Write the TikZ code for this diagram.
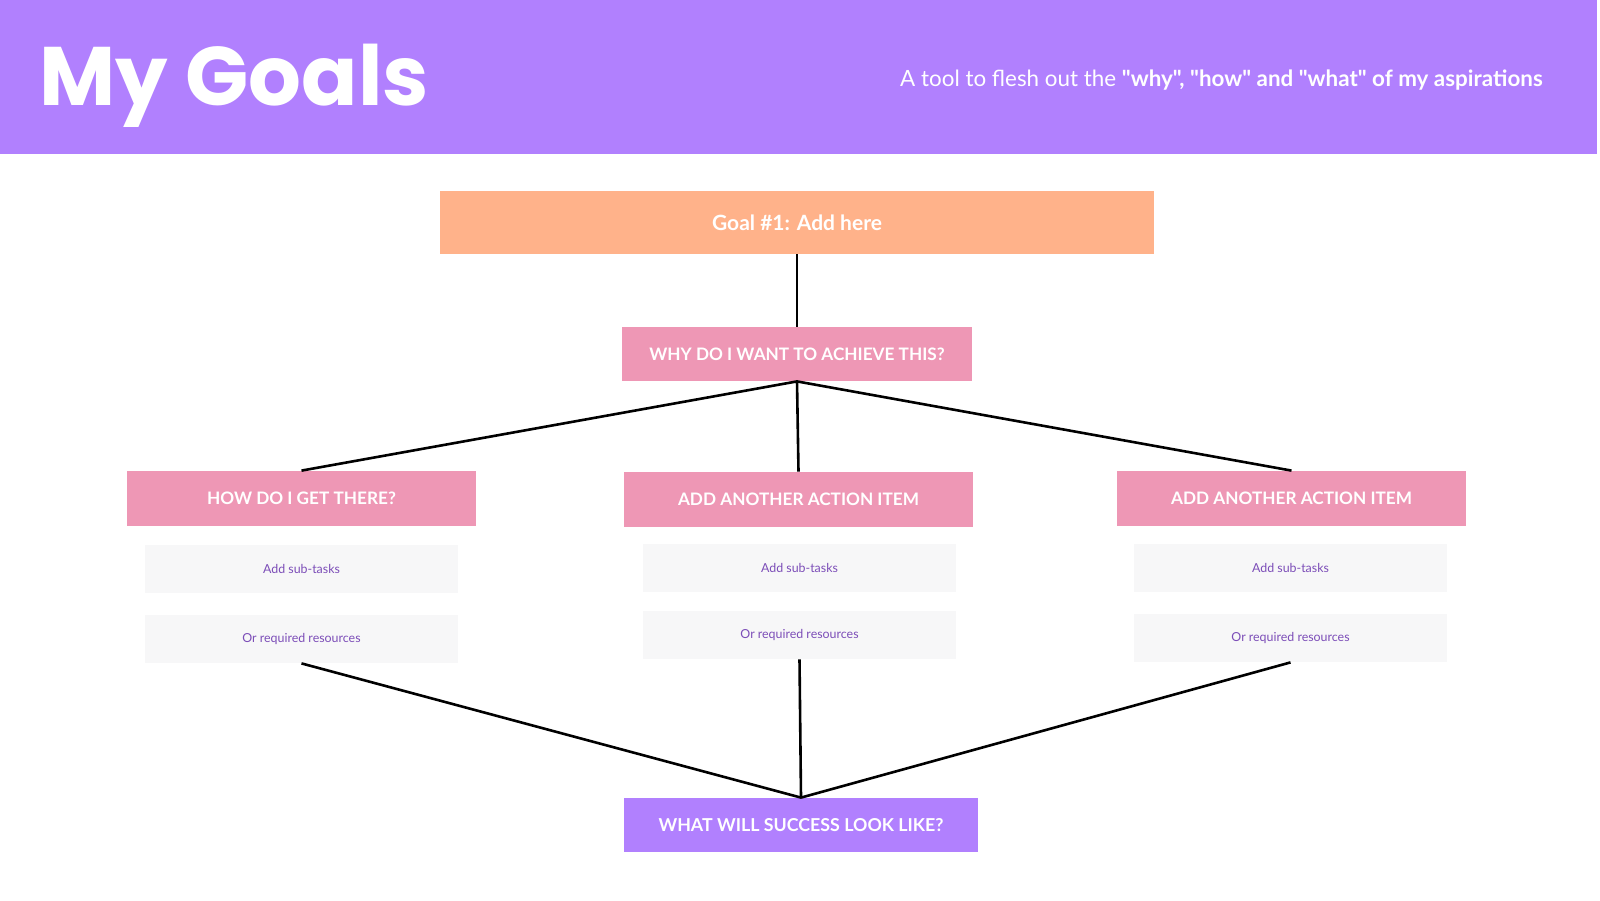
\documentclass[tikz,border=0pt]{standalone}
\usepackage{fontspec}
\setmainfont{Lato}
\newfontfamily\titlefont{Poppins}
\newfontfamily\plainlato{Lato}
\definecolor{hdrpurple}{HTML}{B180FE}
\definecolor{goalpeach}{HTML}{FFB28A}
\definecolor{askpink}{HTML}{EE97B5}
\definecolor{subgray}{HTML}{F7F7F8}
\definecolor{subtext}{HTML}{7C4DB8}
\tikzset{
  askbox/.style={fill=askpink, text=white, font=\bfseries\fontsize{8.6}{10}\selectfont,
    minimum width=174.5pt, minimum height=27.5pt, inner sep=0pt},
  subbox/.style={fill=subgray, text=subtext, font=\fontsize{6.2}{8}\selectfont,
    minimum width=156.5pt, minimum height=24pt, inner sep=0pt},
  link/.style={line width=1.3pt, black}
}
\begin{document}
\begin{tikzpicture}[x=0.5pt, y=-0.5pt]
        \useasboundingbox (0,0) rectangle (1600,900);
        \fill[white] (0,0) rectangle (1600,900);
        \fill[hdrpurple] (0,0) rectangle (1597,154);

        \node[anchor=base west, inner sep=0pt, text=white, font=\titlefont\bfseries\fontsize{41.5}{48}\selectfont] (title) at (39,105) {My Goals};
        \node[anchor=base east, inner sep=0pt, text=white, font=\plainlato\fontsize{11.2}{13}\selectfont] (subtitle) at (1543,86)
            {A tool to flesh out the \textbf{"why", "how" and "what" of my aspirations}};

        \node[fill=goalpeach, text=white, font=\bfseries\fontsize{10.5}{12}\selectfont,
              minimum width=357pt, minimum height=31.5pt, inner sep=0pt] (goal) at (797,222.5) {Goal \#1: Add here};
        \node[askbox, minimum width=175pt, minimum height=27pt] (why) at (797,354) {WHY DO I WANT TO ACHIEVE THIS?};

        \node[askbox] (how) at (301.5,498.5) {HOW DO I GET THERE?};
        \node[askbox] (act2) at (798.5,499.5) {ADD ANOTHER ACTION ITEM};
        \node[askbox] (act3) at (1291.5,498.5) {ADD ANOTHER ACTION ITEM};

        \node[subbox] (subA) at (301.5,569) {Add sub-tasks};
        \node[subbox] (resA) at (301.5,639) {Or required resources};
        \node[subbox] (subB) at (799.5,568) {Add sub-tasks};
        \node[subbox] (resB) at (799.5,635) {Or required resources};
        \node[subbox] (subC) at (1290.5,568) {Add sub-tasks};
        \node[subbox] (resC) at (1290.5,638) {Or required resources};

        \node[fill=hdrpurple, text=white, font=\bfseries\fontsize{8.9}{10}\selectfont,
              minimum width=177pt, minimum height=27pt, inner sep=0pt] (success) at (801,825) {WHAT WILL SUCCESS LOOK LIKE?};

        \draw[link] (goal.south) -- (why.north);
        \draw[link] (why.south) -- (how.north);
        \draw[link] (why.south) -- (act2.north);
        \draw[link] (why.south) -- (act3.north);
        \draw[link] (resA.south) -- (success.north);
        \draw[link] (resB.south) -- (success.north);
        \draw[link] (resC.south) -- (success.north);
\end{tikzpicture}
\end{document}
